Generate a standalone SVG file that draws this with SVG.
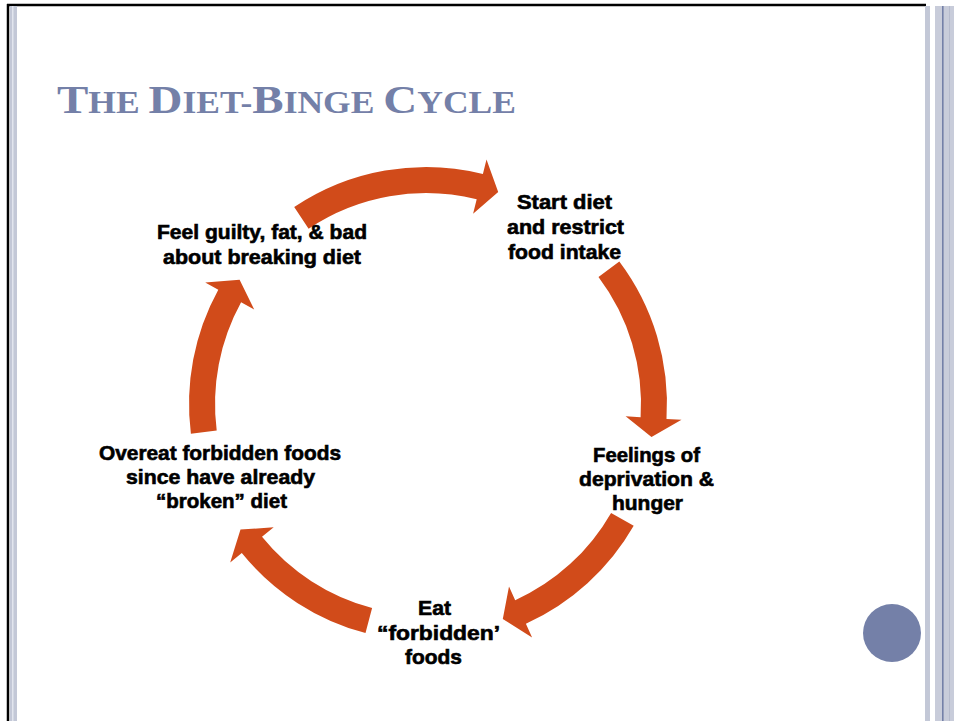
<svg xmlns="http://www.w3.org/2000/svg" width="957" height="721" viewBox="0 0 957 721">
<defs>
<style>
.lbl{font-family:"Liberation Sans",Arial,sans-serif;font-weight:bold;font-size:20px;fill:#000;stroke:#000;stroke-width:0.6px;text-anchor:middle}
.arr{fill:#D14B1A}
.title{font-family:"Liberation Serif","Times New Roman",serif;font-weight:bold;fill:#7480A8}
</style>
</defs>
<rect x="0" y="0" width="957" height="721" fill="#FFFFFF"/>
<g id="frame">
<line x1="7" y1="5" x2="926" y2="5" stroke="#000" stroke-width="2.5"/>
<line x1="8" y1="4" x2="8" y2="721" stroke="#000" stroke-width="2.5"/>
<rect x="10" y="6" width="7" height="715" fill="#C3C8D7"/>
<rect x="12" y="6" width="1.5" height="715" fill="#E2E5EE"/>
<rect x="925" y="6" width="5" height="715" fill="#C3C8D7"/>
<rect x="935" y="6" width="19" height="715" fill="#C8CCDA"/>
<rect x="942" y="6" width="1.6" height="715" fill="#7480A8"/>
<rect x="949" y="6" width="1" height="715" fill="#B6BBCD"/>
</g>
<g id="title">
<text class="title" x="57" y="113" textLength="459" lengthAdjust="spacingAndGlyphs"><tspan font-size="41">T</tspan><tspan font-size="31">HE </tspan><tspan font-size="41">D</tspan><tspan font-size="31">IET-</tspan><tspan font-size="41">B</tspan><tspan font-size="31">INGE </tspan><tspan font-size="41">C</tspan><tspan font-size="31">YCLE</tspan></text>
</g>
<g id="connectors" transform="translate(1,1)">
<path class="arr" d="M293.2,206.1 A237,237 0 0 1 481.9,172.9 L485.5,158.4 L497.2,191.0 L472.1,212.7 L475.7,198.2 A211,211 0 0 0 307.6,227.7 Z"/>
<path class="arr" d="M614.3,260.4 A237,237 0 0 1 661.5,417.9 L676.5,418.8 L646.5,436.1 L620.6,415.3 L635.6,416.3 A211,211 0 0 0 593.5,276.0 Z" transform="translate(4,0)"/>
<path class="arr" d="M630.7,520.8 A237,237 0 0 1 522.9,618.8 L529.1,632.5 L499.8,614.1 L506.0,581.5 L512.2,595.2 A211,211 0 0 0 608.1,507.9 Z" transform="translate(2,4)"/>
<path class="arr" d="M364.5,632.1 A237,237 0 0 1 240.8,552.1 L229.2,561.6 L239.5,528.6 L272.7,526.3 L261.0,535.8 A211,211 0 0 0 371.1,607.0 Z"/>
<path class="arr" d="M189.9,432.7 A237,237 0 0 1 217.3,288.8 L204.2,281.6 L238.6,278.7 L253.2,308.6 L240.1,301.3 A211,211 0 0 0 215.7,429.4 Z"/>
</g>
<g id="node-feel-guilty">
<text class="lbl" x="262" y="239" textLength="210" lengthAdjust="spacingAndGlyphs">Feel guilty, fat, &amp; bad</text>
<text class="lbl" x="262" y="264" textLength="198" lengthAdjust="spacingAndGlyphs">about breaking diet</text>
</g>
<g id="node-start-diet">
<text class="lbl" x="564.5" y="209" textLength="95" lengthAdjust="spacingAndGlyphs">Start diet</text>
<text class="lbl" x="565.5" y="234" textLength="117" lengthAdjust="spacingAndGlyphs">and restrict</text>
<text class="lbl" x="564.5" y="259" textLength="113" lengthAdjust="spacingAndGlyphs">food intake</text>
</g>
<g id="node-feelings">
<text class="lbl" x="646.5" y="462" textLength="107" lengthAdjust="spacingAndGlyphs">Feelings of</text>
<text class="lbl" x="646.5" y="486" textLength="135" lengthAdjust="spacingAndGlyphs">deprivation &amp;</text>
<text class="lbl" x="647.5" y="510" textLength="71" lengthAdjust="spacingAndGlyphs">hunger</text>
</g>
<g id="node-eat">
<text class="lbl" x="434.5" y="615" textLength="33" lengthAdjust="spacingAndGlyphs">Eat</text>
<text class="lbl" x="438.5" y="640" textLength="123" lengthAdjust="spacingAndGlyphs">“forbidden’</text>
<text class="lbl" x="433.5" y="664" textLength="57" lengthAdjust="spacingAndGlyphs">foods</text>
</g>
<g id="node-overeat">
<text class="lbl" x="220" y="460" textLength="242" lengthAdjust="spacingAndGlyphs">Overeat forbidden foods</text>
<text class="lbl" x="220.5" y="484" textLength="189" lengthAdjust="spacingAndGlyphs">since have already</text>
<text class="lbl" x="221.5" y="508" textLength="131" lengthAdjust="spacingAndGlyphs">“broken” diet</text>
</g>
<g id="bullet-circle">
<circle cx="892" cy="633" r="29" fill="#7480A8"/>
</g>
</svg>
